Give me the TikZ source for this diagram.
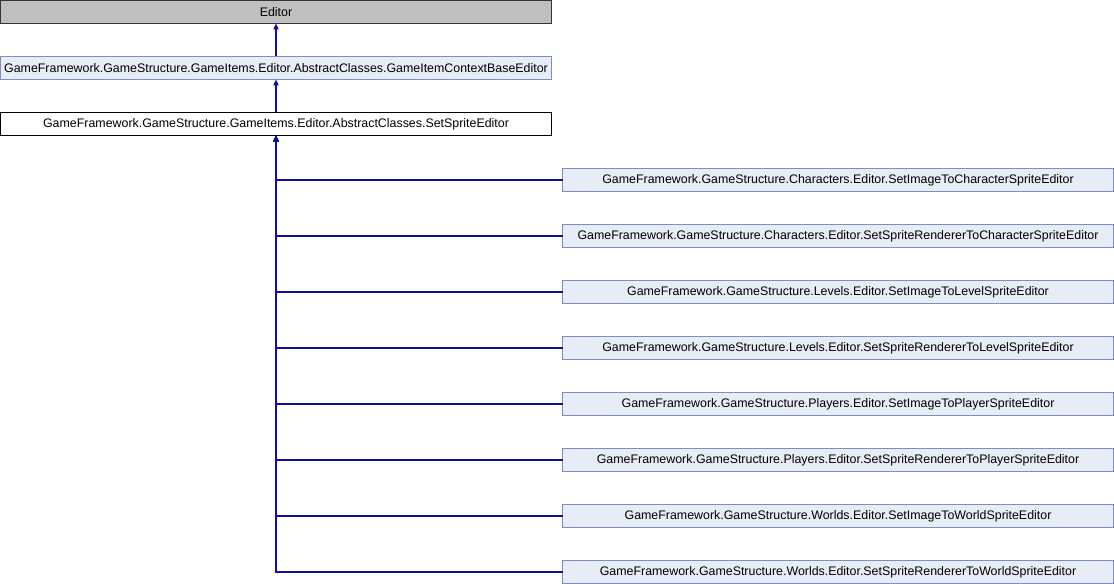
\documentclass[tikz,border=0pt]{standalone}
\usepackage{fontspec}
\setmainfont{Liberation Sans}
\usetikzlibrary{arrows.meta}

\definecolor{edgeblue}{RGB}{16,16,160}
\definecolor{classfill}{RGB}{232,236,246}
\definecolor{classline}{RGB}{122,142,200}
\definecolor{extfill}{RGB}{191,191,191}

\tikzstyle{cls} = [rectangle, minimum width=413.25pt, minimum height=17.25pt, inner sep=0pt, outer sep=0pt, text centered, line width=0.75pt, font=\fontsize{9.3pt}{11pt}\selectfont]
\tikzstyle{external} = [cls, draw=black!80, fill=extfill]
\tikzstyle{base} = [cls, draw=classline, fill=classfill]
\tikzstyle{current} = [cls, draw=black, fill=white]
\tikzstyle{derived} = [cls, draw=classline, fill=classfill]
\tikzstyle{inherit} = [-{Triangle[length=4.5pt,width=4pt]}, draw=edgeblue, line width=0.9pt]

\begin{document}
\begin{tikzpicture}[x=0.75pt, y=-0.75pt]
    \useasboundingbox (0,0) rectangle (1114,584);
	\node (Editor) at (276,12) [external] {Editor};
	\node (ContextBase) at (276,68) [base] {GameFramework.GameStructure.GameItems.Editor.AbstractClasses.GameItemContextBaseEditor};
	\node (SetSprite) at (276,124) [current] {GameFramework.GameStructure.GameItems.Editor.AbstractClasses.SetSpriteEditor};
	\node (CharImage) at (838,180) [derived] {GameFramework.GameStructure.Characters.Editor.SetImageToCharacterSpriteEditor};
	\node (CharRenderer) at (838,236) [derived] {GameFramework.GameStructure.Characters.Editor.SetSpriteRendererToCharacterSpriteEditor};
	\node (LevelImage) at (838,292) [derived] {GameFramework.GameStructure.Levels.Editor.SetImageToLevelSpriteEditor};
	\node (LevelRenderer) at (838,348) [derived] {GameFramework.GameStructure.Levels.Editor.SetSpriteRendererToLevelSpriteEditor};
	\node (PlayerImage) at (838,404) [derived] {GameFramework.GameStructure.Players.Editor.SetImageToPlayerSpriteEditor};
	\node (PlayerRenderer) at (838,460) [derived] {GameFramework.GameStructure.Players.Editor.SetSpriteRendererToPlayerSpriteEditor};
	\node (WorldImage) at (838,516) [derived] {GameFramework.GameStructure.Worlds.Editor.SetImageToWorldSpriteEditor};
	\node (WorldRenderer) at (838,572) [derived] {GameFramework.GameStructure.Worlds.Editor.SetSpriteRendererToWorldSpriteEditor};
	\draw [inherit] (ContextBase) -- (Editor);
	\draw [inherit] (SetSprite) -- (ContextBase);
	\foreach \child in {CharImage,CharRenderer,LevelImage,LevelRenderer,PlayerImage,PlayerRenderer,WorldImage,WorldRenderer}
	    \draw [inherit] (\child.west) -| (SetSprite.south);
\end{tikzpicture}
\end{document}
